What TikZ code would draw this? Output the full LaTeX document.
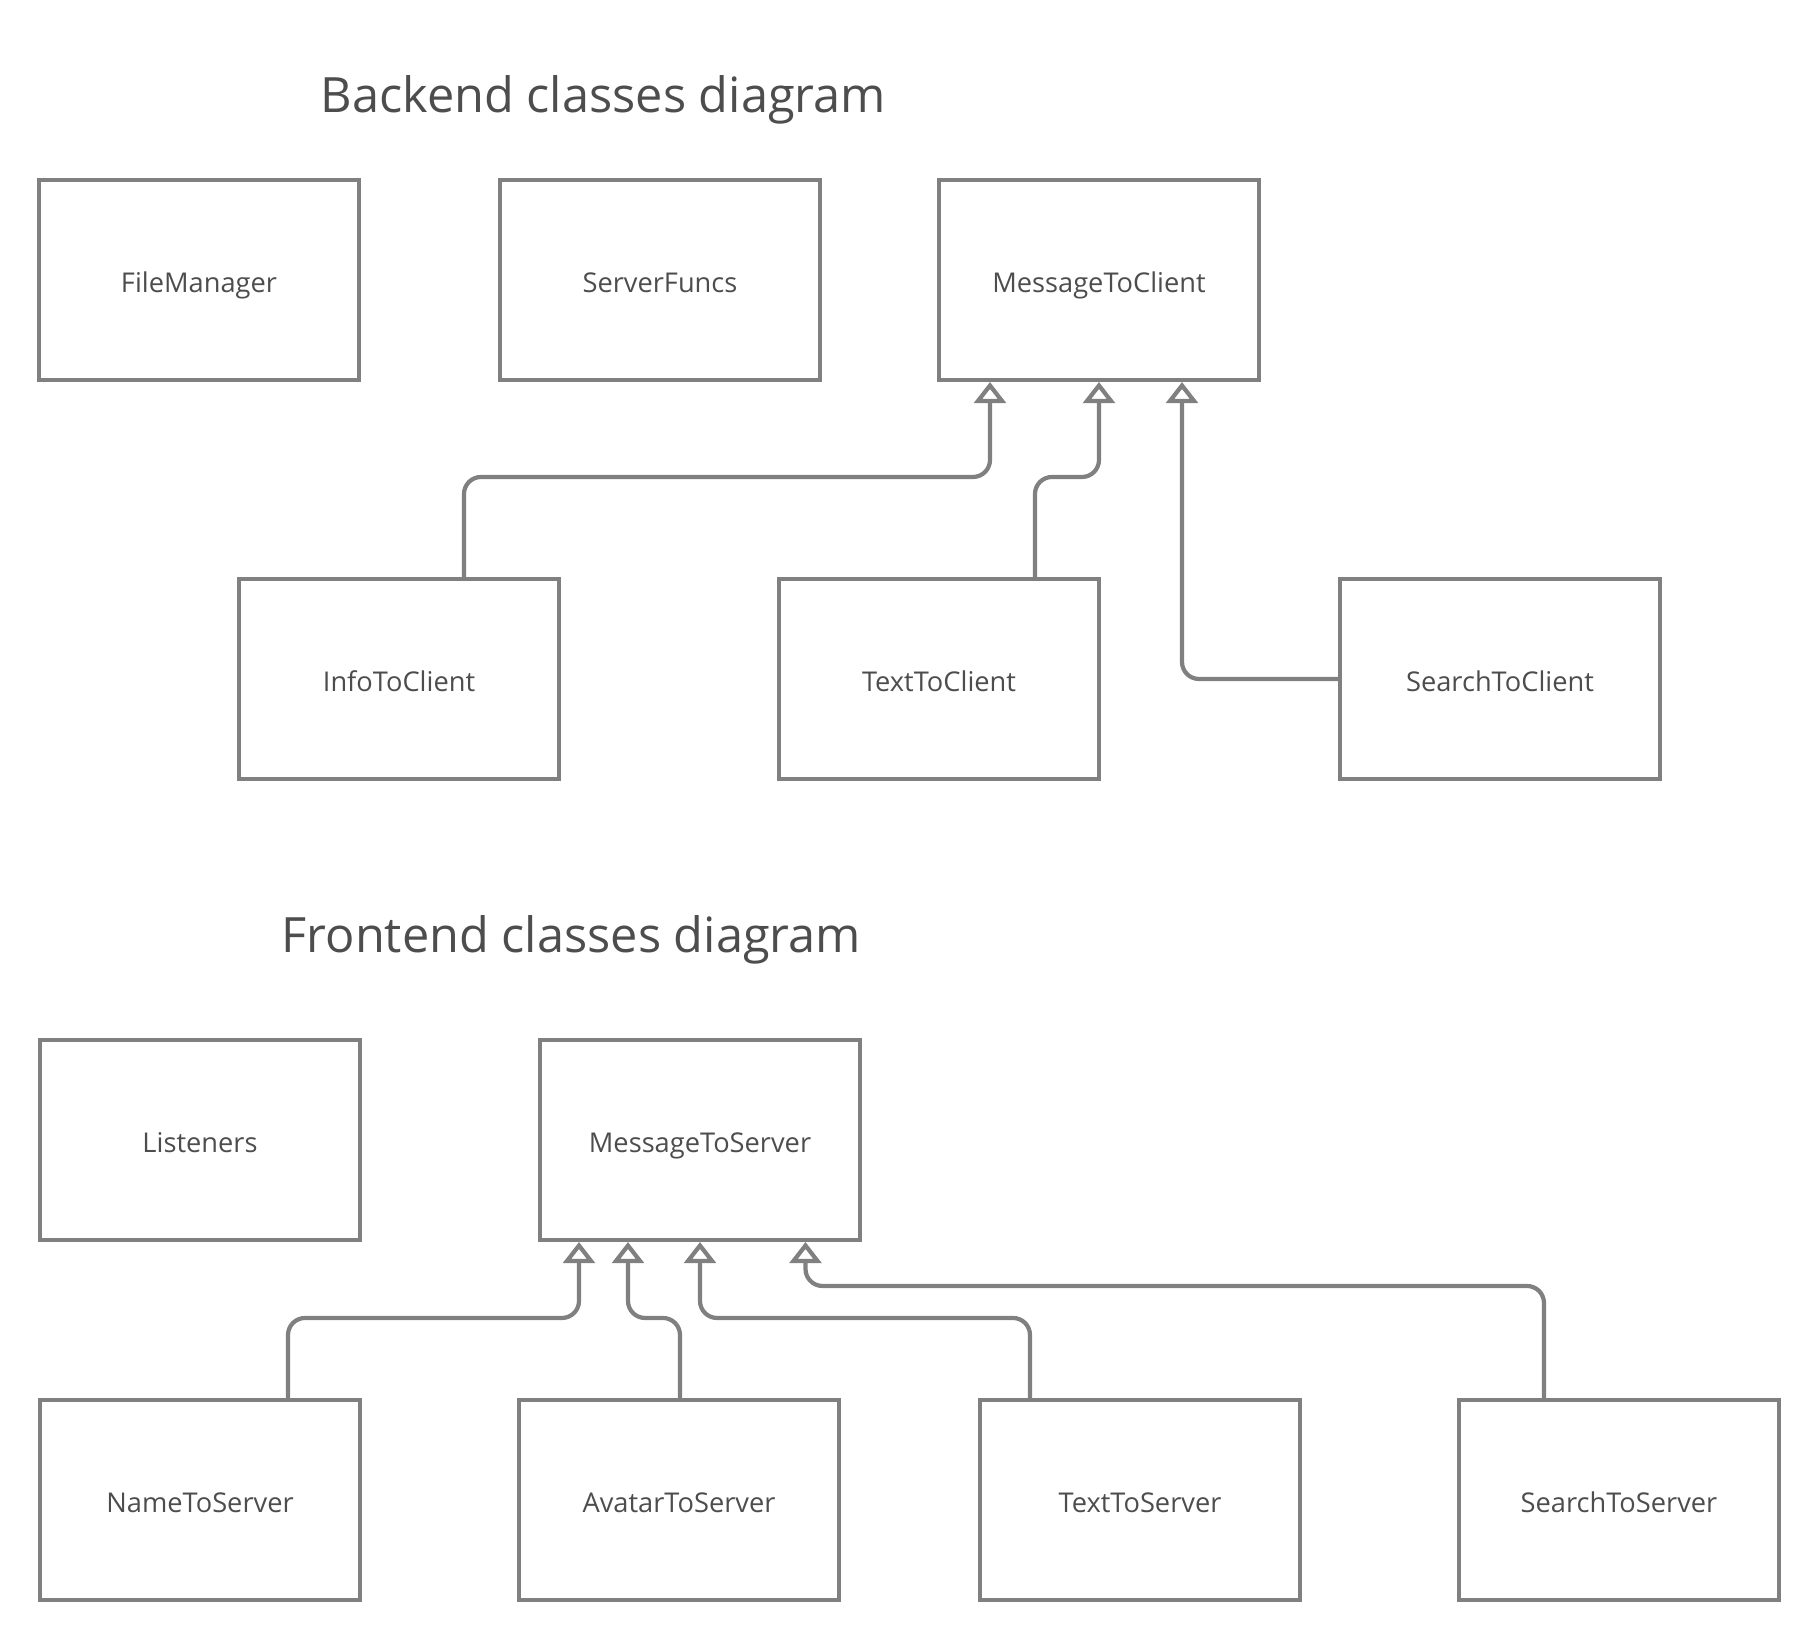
\documentclass[tikz,border=0pt]{standalone}
\usepackage{fontspec}
\setmainfont{Open Sans}
\usepackage{tikz}
\usetikzlibrary{arrows.meta}

\definecolor{linegray}{RGB}{128,128,128}
\definecolor{textgray}{RGB}{77,77,77}

\begin{document}
\begin{tikzpicture}[
  cls/.style={draw=linegray, line width=1.15pt, minimum width=3.2cm, minimum height=2cm,
    inner sep=0pt, text=textgray, text height=0.72em, text depth=0pt,
    font=\fontsize{7.75}{9}\selectfont},
  title/.style={anchor=west, text=textgray, inner sep=0pt, font=\fontsize{13.85}{17}\selectfont},
  inherit/.style={draw=linegray, line width=1.2pt, rounded corners=0.17cm,
    -{Triangle[open, length=6pt, width=9pt, fill=white]}}
]
  \useasboundingbox (0,0) rectangle (18.2,-16.4);

  % Backend
  \node[title] (backtitle) at (3.20,-1.00) {Backend classes diagram};

  \node[cls] (fm)  at (1.99,-2.80)  {FileManager};
  \node[cls] (sf)  at (6.60,-2.80)  {ServerFuncs};
  \node[cls] (mtc) at (10.99,-2.80) {MessageToClient};

  \node[cls] (itc) at (3.99,-6.79)  {InfoToClient};
  \node[cls] (ttc) at (9.39,-6.79)  {TextToClient};
  \node[cls] (stc) at (15.00,-6.79) {SearchToClient};

  % Vererbung MessageToClient
  \draw[inherit] ([xshift=0.65cm]itc.north) -- ++(0,1.0) -| ([xshift=-1.09cm]mtc.south);
  \draw[inherit] ([xshift=0.96cm]ttc.north) -- ++(0,1.0) -| (mtc.south);
  \draw[inherit] (stc.west) -| ([xshift=0.83cm]mtc.south);

  % Frontend
  \node[title] (fronttitle) at (2.81,-9.40) {Frontend classes diagram};

  \node[cls] (lis) at (2.00,-11.40) {Listeners};
  \node[cls] (mts) at (7.00,-11.40) {MessageToServer};

  \node[cls] (nts) at (2.00,-15.00)  {NameToServer};
  \node[cls] (ats) at (6.79,-15.00)  {AvatarToServer};
  \node[cls] (tts) at (11.40,-15.00) {TextToServer};
  \node[cls] (sts) at (16.19,-15.00) {SearchToServer};

  % Vererbung MessageToServer
  \draw[inherit] ([xshift=0.88cm]nts.north) -- ++(0,0.8) -| ([xshift=-1.21cm]mts.south);
  \draw[inherit] ([xshift=0.01cm]ats.north) -- ++(0,0.8) -| ([xshift=-0.72cm]mts.south);
  \draw[inherit] ([xshift=-1.10cm]tts.north) -- ++(0,0.8) -| (mts.south);
  \draw[inherit] ([xshift=-0.75cm]sts.north) -- ++(0,1.12) -| ([xshift=1.055cm]mts.south);
\end{tikzpicture}
\end{document}
